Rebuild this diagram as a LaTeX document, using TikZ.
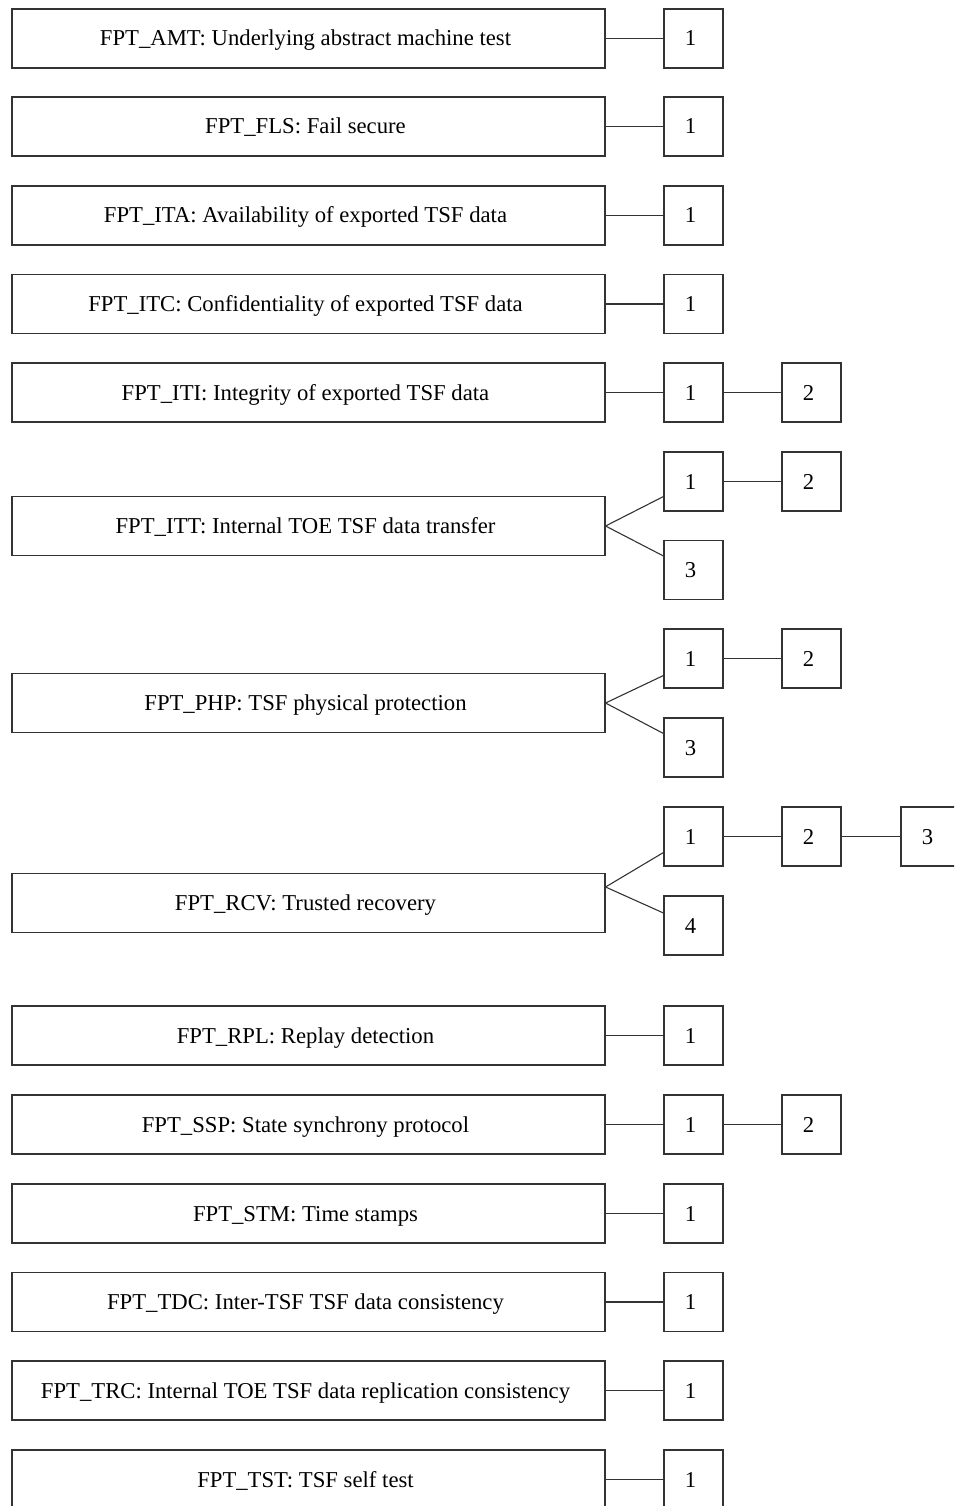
\documentclass[tikz,border=0pt]{standalone}
\usepackage{fontspec}
\setmainfont{Liberation Serif}
\begin{document}
\begin{tikzpicture}[x=1pt,y=-1pt,
  every node/.style={font=\fontsize{22.7}{26}\selectfont, text height=15pt, text depth=0pt, execute at begin node={\kern-6pt}},
  big/.style={draw=black!80, line width=1.1pt, minimum width=593pt, minimum height=59pt, inner sep=0pt},
  small/.style={draw=black!80, line width=1.1pt, minimum width=59pt, minimum height=59pt, inner sep=0pt},
  link/.style={draw=black!80, line width=1.1pt}]
\clip (0,0) rectangle (954,1506);
\useasboundingbox (0,0) rectangle (954,1506);
% big boxes
\node[big] (amt) at (308.5,38.5) {FPT\_AMT: Underlying abstract machine test};
\node[big] (fls) at (308.5,126.5) {FPT\_FLS: Fail secure};
\node[big] (ita) at (308.5,215.5) {FPT\_ITA: Availability of exported TSF data};
\node[big] (itc) at (308.5,304) {FPT\_ITC: Confidentiality of exported TSF data};
\node[big] (iti) at (308.5,392.5) {FPT\_ITI: Integrity of exported TSF data};
\node[big] (itt) at (308.5,526) {FPT\_ITT: Internal TOE TSF data transfer};
\node[big] (php) at (308.5,703) {FPT\_PHP: TSF physical protection};
\node[big] (rcv) at (308.5,903) {FPT\_RCV: Trusted recovery};
\node[big] (rpl) at (308.5,1035.5) {FPT\_RPL: Replay detection};
\node[big] (ssp) at (308.5,1124.5) {FPT\_SSP: State synchrony protocol};
\node[big] (stm) at (308.5,1213.5) {FPT\_STM: Time stamps};
\node[big] (tdc) at (308.5,1302) {FPT\_TDC: Inter-TSF TSF data consistency};
\node[big] (trc) at (308.5,1390.5) {FPT\_TRC: Internal TOE TSF data replication consistency};
\node[big] (tst) at (308.5,1479.5) {FPT\_TST: TSF self test};
% small boxes
\node[small] (amt1) at (693.5,38.5) {1};
\node[small] (fls1) at (693.5,126.5) {1};
\node[small] (ita1) at (693.5,215.5) {1};
\node[small] (itc1) at (693.5,304) {1};
\node[small] (iti1) at (693.5,392.5) {1};
\node[small] (iti2) at (811.5,392.5) {2};
\node[small] (itt1) at (693.5,481.5) {1};
\node[small] (itt2) at (811.5,481.5) {2};
\node[small] (itt3) at (693.5,570) {3};
\node[small] (php1) at (693.5,658.5) {1};
\node[small] (php2) at (811.5,658.5) {2};
\node[small] (php3) at (693.5,747.5) {3};
\node[small] (rcv1) at (693.5,836.5) {1};
\node[small] (rcv2) at (811.5,836.5) {2};
\node[small] (rcv3) at (930.5,836.5) {3};
\node[small] (rcv4) at (693.5,925.5) {4};
\node[small] (rpl1) at (693.5,1035.5) {1};
\node[small] (ssp1) at (693.5,1124.5) {1};
\node[small] (ssp2) at (811.5,1124.5) {2};
\node[small] (stm1) at (693.5,1213.5) {1};
\node[small] (tdc1) at (693.5,1302) {1};
\node[small] (trc1) at (693.5,1390.5) {1};
\node[small] (tst1) at (693.5,1479.5) {1};
% links
\path[link] (amt) -- (amt1);
\path[link] (fls) -- (fls1);
\path[link] (ita) -- (ita1);
\path[link] (itc) -- (itc1);
\path[link] (iti) -- (iti1);
\path[link] (iti1) -- (iti2);
\path[link] (itt.east) -- ([yshift=-15pt]itt1.west);
\path[link] (itt.east) -- ([yshift=14pt]itt3.west);
\path[link] (itt1) -- (itt2);
\path[link] (php.east) -- ([yshift=-17pt]php1.west);
\path[link] (php.east) -- ([yshift=14pt]php3.west);
\path[link] (php1) -- (php2);
\path[link] ([yshift=16pt]rcv.east) -- ([yshift=-16pt]rcv1.west);
\path[link] ([yshift=16pt]rcv.east) -- ([yshift=12.5pt]rcv4.west);
\path[link] (rcv1) -- (rcv2);
\path[link] (rcv2) -- (rcv3);
\path[link] (rpl) -- (rpl1);
\path[link] (ssp) -- (ssp1);
\path[link] (ssp1) -- (ssp2);
\path[link] (stm) -- (stm1);
\path[link] (tdc) -- (tdc1);
\path[link] (trc) -- (trc1);
\path[link] (tst) -- (tst1);
\end{tikzpicture}
\end{document}
